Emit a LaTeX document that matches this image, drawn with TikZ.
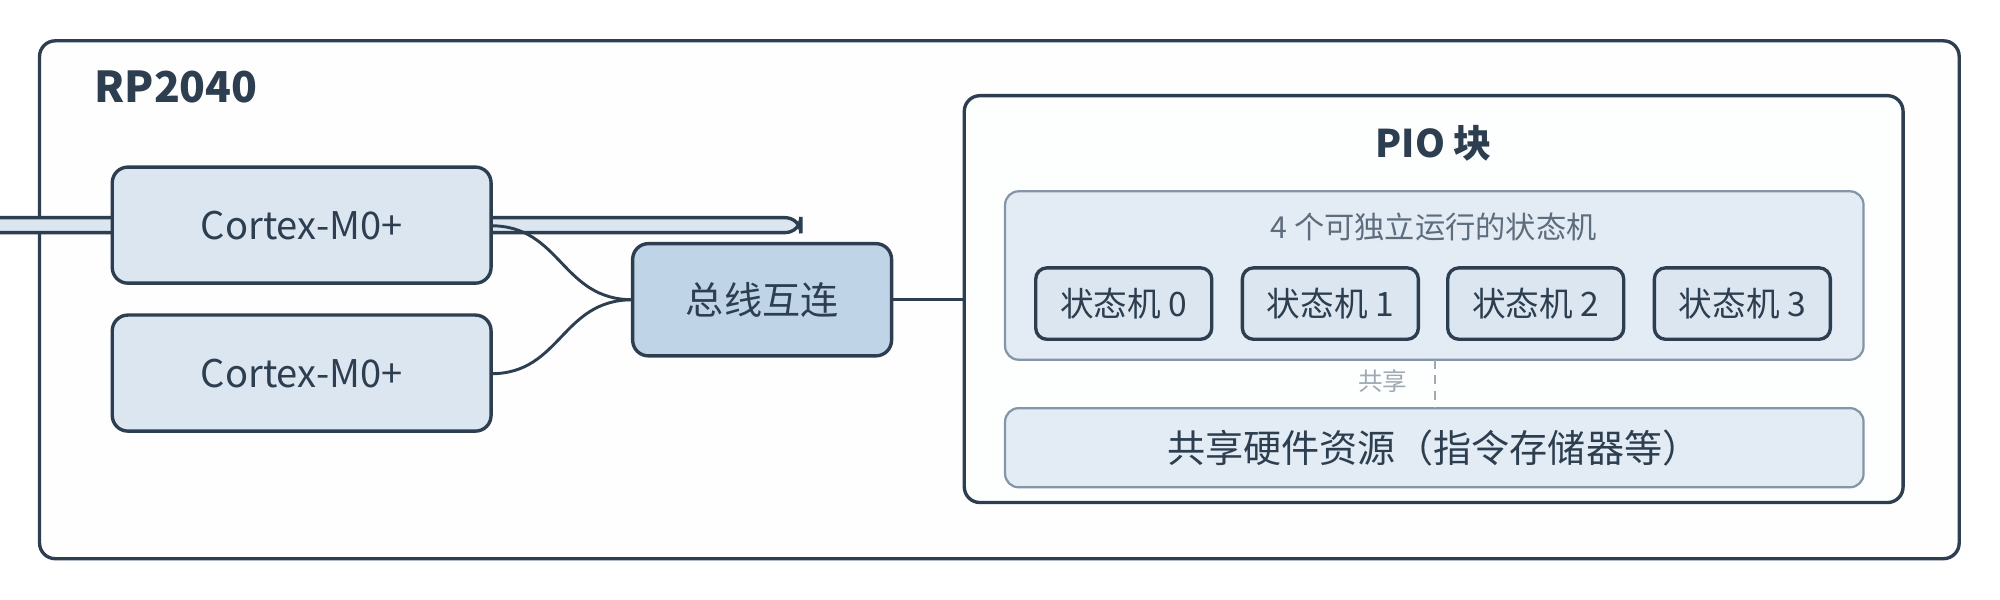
\documentclass[tikz,border=0pt]{standalone}
\usepackage{fontspec}
\setmainfont{Noto Sans CJK SC}
\begin{document}
\begin{tikzpicture}[x=0.02cm,y=-0.02cm,
  dk/.style={draw=c1,line width=1.5pt,rounded corners=7pt},
  gr/.style={draw=c3,line width=1pt,rounded corners=6pt,fill=c5},
  con/.style={draw=c1,line width=1.3pt}]
\definecolor{c1}{HTML}{2C3E50}
\definecolor{c2}{HTML}{DCE6F0}
\definecolor{c3}{HTML}{8395A7}
\definecolor{c4}{HTML}{BFD4E6}
\definecolor{c5}{HTML}{E3ECF4}
\definecolor{c6}{HTML}{5D6D7E}
\definecolor{c7}{HTML}{A0AAB4}
\useasboundingbox[fill=white] (0,0) rectangle (1568,470);
\draw[dk,fill=white!97!c2] (31,32) rectangle (1536,438);
\node[anchor=west,font=\bfseries\fontsize{19}{22}\selectfont,text=c1] (rp) at (68,68) {RP2040};
\node[dk,fill=c2,minimum width=297\pgflinewidth,text=c1] (ca) at (236.5,176.5) {};
\draw[dk,fill=c2] (88,131) rectangle (385,222);
\draw[dk,fill=c2] (88,247) rectangle (385,338);
\node[font=\fontsize{17}{20}\selectfont,text=c1] (c1n) at (236.5,176.5) {Cortex-M0+};
\node[font=\fontsize{17}{20}\selectfont,text=c1] (c2n) at (236.5,292.5) {Cortex-M0+};
\draw[dk,fill=c4] (496,191) rectangle (699,279);
\node[font=\fontsize{17}{20}\selectfont,text=c1] (bus) at (597.5,235) {总线互连};
\coordinate (a1) at (385,177);
\coordinate (a2) at (385,293);
\coordinate (b) at (496,235);
\coordinate (b2) at (699,235);
\coordinate (p) at (756,235);
\draw[con] (a1) .. controls (440,177) and (440,235) .. (b);
\draw[con] (a2) .. controls (440,293) and (440,235) .. (b);
\draw[con] (b2) -- (p);
\draw[dk,fill=white!94!c2] (756,75) rectangle (1492,394);
\node[font=\bfseries\fontsize{17}{20}\selectfont,text=c1] (pio) at (1124,112) {PIO 块};
\draw[gr] (788,150) rectangle (1461,282);
\node[font=\fontsize{13.5}{16}\selectfont,text=c6] (gl) at (1124,178) {4 个可独立运行的状态机};
\foreach \x/\n in {812/0,974/1,1135/2,1297/3}{
  \draw[dk,fill=c2,rounded corners=5pt] (\x,210) rectangle (\x+138,266);
  \node[font=\fontsize{15}{18}\selectfont,text=c1] (sm\n) at (\x+69,238) {状态机 \n};
}
\draw[gr] (788,320) rectangle (1461,382);
\node[font=\fontsize{17}{20}\selectfont,text=c1] (sh) at (1124,351) {共享硬件资源（指令存储器等）};
\coordinate (d1) at (1125,282);
\coordinate (d2) at (1125,320);
\draw[draw=c7,line width=1pt,dash pattern=on 4pt off 3pt] (d1) -- (d2);
\node[font=\fontsize{11}{13}\selectfont,text=c7] (shl) at (1084,299) {共享};
\end{tikzpicture}
\end{document}
